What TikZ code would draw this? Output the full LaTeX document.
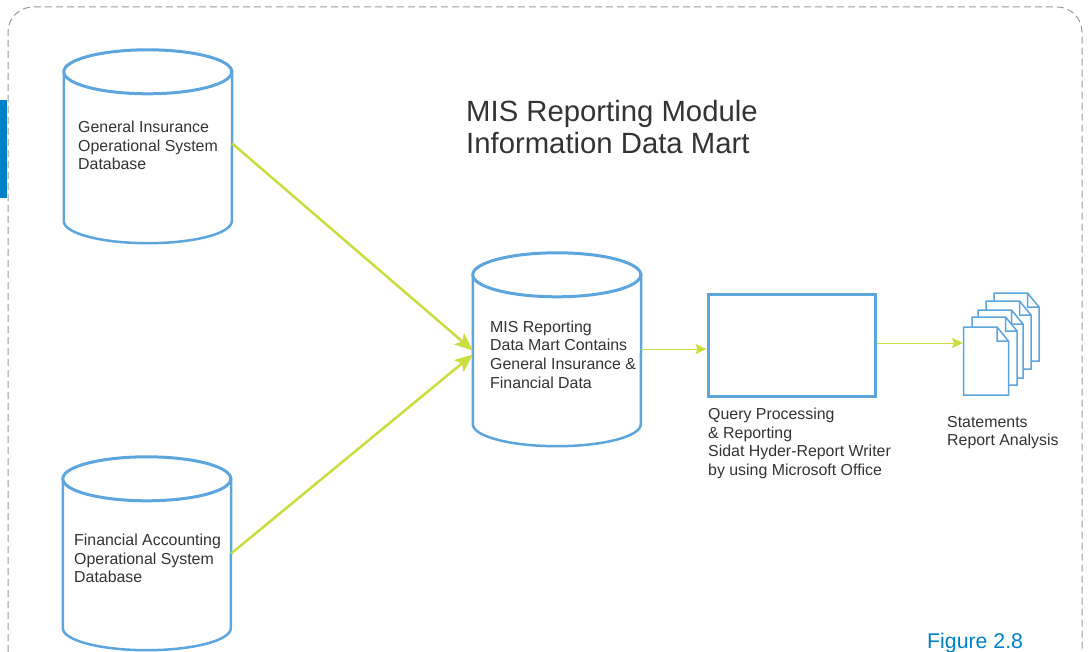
\documentclass[tikz,border=0pt]{standalone}
\usepackage{fontspec}
\setmainfont{Liberation Sans}
\usetikzlibrary{arrows.meta}
\usetikzlibrary{positioning}
\definecolor{dbblue}{HTML}{5DA5DD}
\definecolor{flowgreen}{HTML}{CBDC3F}
\definecolor{framegray}{HTML}{9F9995}
\definecolor{tabblue}{HTML}{0080C6}
\definecolor{labelgray}{HTML}{333333}
\begin{document}
\begin{tikzpicture}[x=1pt, y=-1pt,
		dbcyl/.style={minimum width=168pt, minimum height=193pt, inner sep=0pt},
		dbline/.style={draw=dbblue, line width=2.5pt, fill=white},
		thickflow/.style={draw=flowgreen, line width=2.5pt, -{Stealth[length=18pt, width=15pt, inset=4pt]}},
		thinflow/.style={draw=flowgreen, line width=0.8pt, -{Stealth[length=11pt, width=10pt, inset=2pt]}},
		txt/.style={font=\fontsize{15.9}{18.6}\selectfont, text=labelgray, align=left, anchor=north west, inner sep=0pt}]
		\useasboundingbox (0,0) rectangle (1089,652);
		% frame
		\fill[tabblue] (0,100) rectangle (7,198);
		\draw[framegray, line width=1pt, dash pattern=on 7pt off 4pt] (8,652) -- (8,32) arc[start angle=180, end angle=270, radius=25] -- (1057,7) arc[start angle=270, end angle=360, radius=25] -- (1082,652);

		% databases
		\node[dbcyl] (general) at (148,146.5) {};
		\node[dbcyl] (financial) at (147,553.5) {};
		\node[dbcyl] (mart) at (557,349.5) {};
		\foreach \db in {general, financial, mart} {
			\draw[dbline] ([yshift=-22pt]\db.north west) -- ([yshift=22pt]\db.south west) arc[start angle=180, end angle=360, x radius=84pt, y radius=22pt] -- ([yshift=-22pt]\db.north east) -- cycle;
			\draw[dbline, line width=3pt] ([yshift=-22pt]\db.north west) arc[start angle=180, end angle=540, x radius=84pt, y radius=22pt] -- cycle;
		}
		\node[txt] (generaltxt) at (78,121) {General Insurance\\Operational System\\Database};
		\node[txt] (financialtxt) at (74,534) {Financial Accounting\\Operational System\\Database};
		\node[txt] (marttxt) at (490,320.5) {MIS Reporting\\Data Mart Contains\\General Insurance \&\\Financial Data};

		% title
		\node[txt, font=\fontsize{29.3}{32}\selectfont] (title) at (466,100.5) {MIS Reporting Module\\Information Data Mart};

		% query box
		\node[draw=dbblue, line width=3pt, fill=white, minimum width=167pt, minimum height=102pt, inner sep=0pt] (query) at (791.5,345) {};
		\node[txt] (querytxt) at (708,408) {Query Processing\\\& Reporting\\Sidat Hyder-Report Writer\\by using Microsoft Office};

		% statements
		\foreach \x/\y in {994/293, 986/301, 978/310, 972/317, 963.5/327}
			\draw[draw=dbblue, line width=1.5pt, fill=white] (\x,\y) -- ++(33.5,0) -- ++(11.5,14) -- ++(0,54) -- ++(-45,0) -- cycle ++(33.5,0) |- ++(11.5,14);
		\coordinate (docs) at (963,343);
		\node[txt] (docstxt) at (947,416) {Statements\\Report Analysis};

		% flows
		\draw[thickflow] ([yshift=3pt]general.east) -- ([yshift=-1pt]mart.west);
		\draw[thickflow] (financial.east) -- ([yshift=-5pt]mart.west);
		\draw[thinflow] ([yshift=0.5pt]mart.east) -- ([yshift=0.5pt]mart.east -| query.west);
		\draw[thinflow] ([yshift=2pt]query.east) -- (docs);

		\node[txt, font=\fontsize{21.3}{24}\selectfont, text=tabblue] (figlabel) at (927,633) {Figure 2.8};
	\end{tikzpicture}
\end{document}
